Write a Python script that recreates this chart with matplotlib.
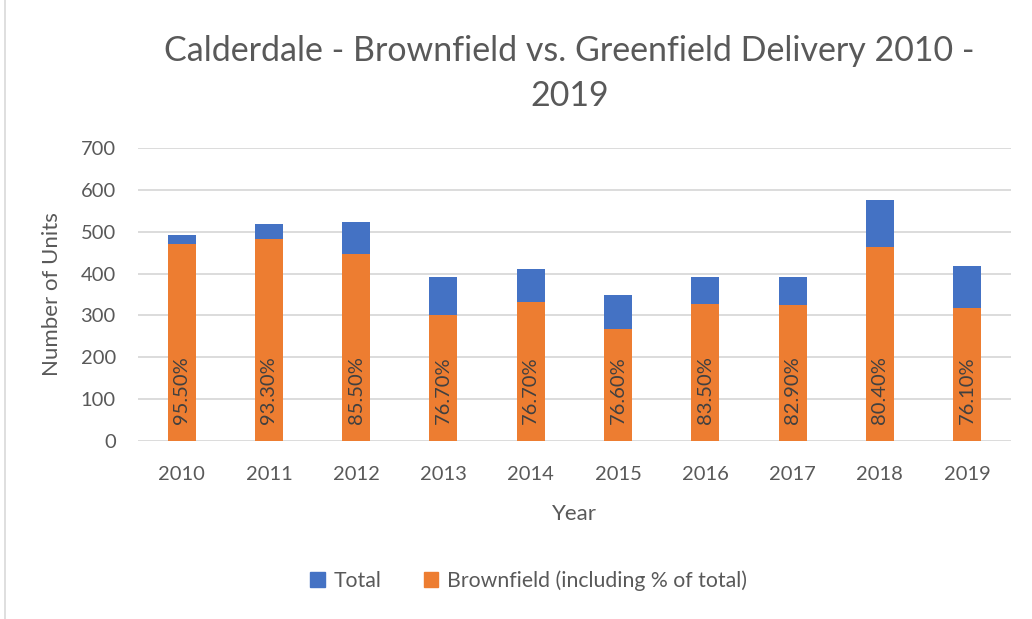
import numpy as np
import matplotlib.pyplot as plt
from matplotlib.patches import Patch, Rectangle

years = ["2010", "2011", "2012", "2013", "2014", "2015", "2016", "2017", "2018", "2019"]
total = [492, 518, 522, 391, 412, 349, 392, 392, 576, 417]
brownfield = [470, 483, 446, 300, 333, 267, 327, 325, 463, 317]
pct_labels = ["95.50%", "93.30%", "85.50%", "76.70%", "76.70%",
              "76.60%", "83.50%", "82.90%", "80.40%", "76.10%"]

BLUE = "#4472C4"
ORANGE = "#ED7D31"
GREY_TXT = "#595959"
GRID = "#D9D9D9"

plt.rcParams['font.family'] = ['Lato', 'DejaVu Sans']

fig = plt.figure(figsize=(10.32, 6.19), dpi=100)
ax = fig.add_axes([0.1337, 0.2876, 0.9794 - 0.1337, 0.761 - 0.2876])

x = np.arange(len(years))
w = 0.32
ax.bar(x, total, width=w, color=BLUE, zorder=2, label="Total")
ax.bar(x, brownfield, width=w, color=ORANGE, zorder=3,
       label="Brownfield (including % of total)")

for xi, lab in zip(x, pct_labels):
    ax.annotate(lab, (xi, 0), xytext=(0, 12), textcoords="offset points",
                rotation=90, ha="center", va="bottom", fontsize=14.5,
                color="#404040", zorder=4)

ax.set_xlim(-0.5, len(years) - 0.5)
ax.set_ylim(0, 700)
ax.set_yticks(range(0, 701, 100))
ax.set_xticks(x)
ax.set_xticklabels(years)
ax.yaxis.grid(True, color=GRID, linewidth=1.3, zorder=0)
ax.set_axisbelow(True)
for s in ax.spines.values():
    s.set_visible(False)
ax.tick_params(length=0, labelsize=14.5, labelcolor=GREY_TXT)
ax.tick_params(axis="y", pad=16)
ax.tick_params(axis="x", pad=18)

ax.set_xlabel("Year", fontsize=16, color=GREY_TXT, labelpad=15)
ax.set_ylabel("Number of Units", fontsize=16, color=GREY_TXT, labelpad=13)

fig.text(0.552, 0.918, "Calderdale - Brownfield vs. Greenfield Delivery 2010 -",
         ha="center", va="center", fontsize=24.5, color=GREY_TXT)
fig.text(0.552, 0.845, "2019", ha="center", va="center", fontsize=24.5,
         color=GREY_TXT)

handles = [Patch(color=BLUE), Patch(color=ORANGE)]
fig.legend(handles, ["Total", "Brownfield (including % of total)"],
           loc="center", bbox_to_anchor=(0.512, 0.062), ncol=2, frameon=False,
           fontsize=15.3, labelcolor=GREY_TXT, handlelength=0.7,
           handleheight=0.7, handletextpad=0.4, columnspacing=2.0)

# chart frame edge on the left
fig.patches.append(Rectangle((0.005, -0.01), 1.2, 1.2, transform=fig.transFigure,
                             fill=False, edgecolor="#D9D9D9", linewidth=1.2))

fig.savefig("out.png", dpi=100)
